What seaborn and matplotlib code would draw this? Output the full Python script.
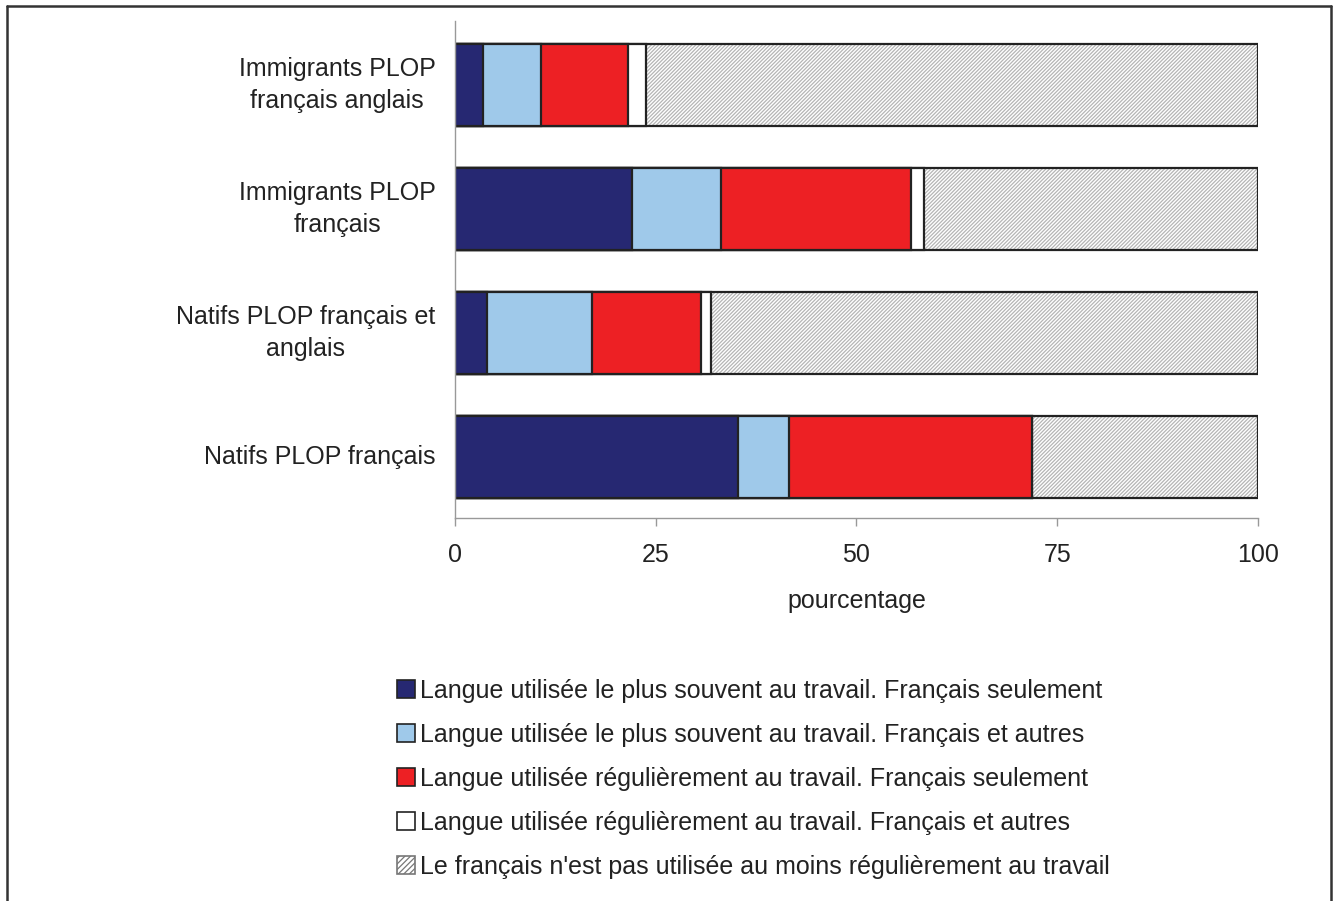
import matplotlib
matplotlib.use("Agg")
import matplotlib.pyplot as plt
import seaborn as sns
import pandas as pd
import numpy as np
from matplotlib.patches import Patch
from matplotlib.lines import Line2D

# categories (top to bottom)
groups = ["Immigrants PLOP\nfrançais anglais",
          "Immigrants PLOP\nfrançais",
          "Natifs PLOP français et\nanglais",
          "Natifs PLOP français"]

# percentages per segment
plus_souvent_fr = [3.5, 22.0, 4.0, 35.2]
plus_souvent_fr_autres = [7.2, 11.1, 13.1, 6.4]
regulier_fr = [10.9, 23.7, 13.5, 30.2]
regulier_fr_autres = [2.2, 1.6, 1.3, 0.0]
pas_utilise = [76.2, 41.6, 68.1, 28.2]

labels = ["Langue utilisée le plus souvent au travail. Français seulement",
          "Langue utilisée le plus souvent au travail. Français et autres",
          "Langue utilisée régulièrement au travail. Français seulement",
          "Langue utilisée régulièrement au travail. Français et autres",
          "Le français n'est pas utilisée au moins régulièrement au travail"]
colors = ["#262872", "#9fc9ea", "#ed2024", "#ffffff", "#ffffff"]

sns.set_theme(style="white")
plt.rcParams["font.family"] = ["Liberation Sans", "DejaVu Sans"]
plt.rcParams["hatch.linewidth"] = 0.9

df = pd.DataFrame({"groupe": groups,
                   "s1": plus_souvent_fr, "s2": plus_souvent_fr_autres,
                   "s3": regulier_fr, "s4": regulier_fr_autres,
                   "s5": pas_utilise})
cols = ["s1", "s2", "s3", "s4", "s5"]
cum = df[cols].cumsum(axis=1)

fs = 18
fig = plt.figure(figsize=(13.33, 9.01), dpi=100)
ax = fig.add_axes([0.3413, 0.425, 0.6024, 0.552])

# hatched total first, then the cumulative layers on top
sns.barplot(x=cum["s5"], y=df["groupe"], orient="h", color="white",
            edgecolor="#b5b5b5", linewidth=0, hatch="/" * 9,
            width=0.66, ax=ax)
sns.barplot(x=cum["s5"], y=df["groupe"], orient="h", fill=False,
            edgecolor="#222222", linewidth=1.6, width=0.66, ax=ax)
for c, col in zip(cols[3::-1], colors[3::-1]):
    sns.barplot(x=cum[c], y=df["groupe"], orient="h", color=col,
                edgecolor="#222222", linewidth=1.6, saturation=1,
                width=0.66, ax=ax)

ax.set_xlim(0, 100)
ax.set_ylim(3.49, -0.516)
ax.set_xticks([0, 25, 50, 75, 100])
ax.set_xlabel("pourcentage", fontsize=fs, labelpad=15.5, color="#222222")
ax.set_ylabel("")
ax.tick_params(axis="x", bottom=True, length=6, width=1, color="#999999",
               direction="out", labelsize=fs, pad=12, labelcolor="#222222")
ax.tick_params(axis="y", left=False, length=0, labelsize=fs, pad=14,
               labelcolor="#222222")
for t in ax.get_yticklabels():
    t.set_multialignment("center")
    t.set_linespacing(1.4)
    t.set_verticalalignment("center")
for s in ["top", "right"]:
    ax.spines[s].set_visible(False)
for s in ["left", "bottom"]:
    ax.spines[s].set_color("#999999")
    ax.spines[s].set_linewidth(1)

handles = []
for i, (lab, col) in enumerate(zip(labels, colors)):
    if i == 4:
        handles.append(Patch(facecolor="white", edgecolor="#777777",
                             hatch="/" * 6, linewidth=1.2, label=lab))
    else:
        handles.append(Patch(facecolor=col, edgecolor="#222222",
                             linewidth=1.2, label=lab))
fig.legend(handles=handles, loc="upper left", bbox_to_anchor=(0.2888, 0.2603),
           frameon=False, fontsize=fs, handlelength=0.7, handleheight=0.7,
           handletextpad=0.2, labelspacing=0.8, borderpad=0,
           labelcolor="#222222")

# outer frame (bottom cut off)
fw, fh = 1333, 901
fig.add_artist(Line2D([7.5 / fw, 7.5 / fw], [0, 1 - 6 / fh],
                      transform=fig.transFigure, color="#333333", lw=1.8))
fig.add_artist(Line2D([7.5 / fw, 1331 / fw], [1 - 6 / fh, 1 - 6 / fh],
                      transform=fig.transFigure, color="#333333", lw=1.8))
fig.add_artist(Line2D([1331 / fw, 1331 / fw], [0, 1 - 6 / fh],
                      transform=fig.transFigure, color="#333333", lw=1.8))

fig.savefig("out.png", dpi=100)
